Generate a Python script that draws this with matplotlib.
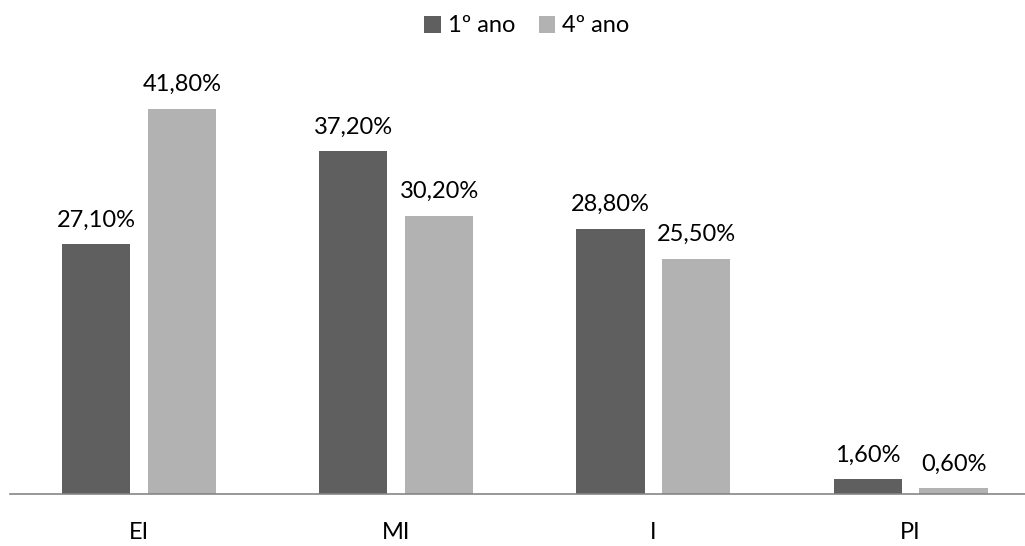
import numpy as np
import matplotlib
matplotlib.use("Agg")
import matplotlib.pyplot as plt

## DATA
categories = ['EI', 'MI', 'I', 'PI']
ano1 = [27.1, 37.2, 28.8, 1.6]
ano4 = [41.8, 30.2, 25.5, 0.6]
series_names = ['1º ano', '4º ano']

plt.rcParams['font.family'] = ['Lato', 'DejaVu Sans']

W, H = 1025, 546
fig = plt.figure(figsize=(W / 100, H / 100), dpi=100)
# axes placed in pixel terms: baseline at y=494, first category centre at x=139
ax = fig.add_axes([10.4 / W, 52 / H, (W - 10.4) / W, 414.5 / H])

x = np.arange(len(categories))
bw = 0.265
off = 0.167
b1 = ax.bar(x - off, ano1, bw, color='#5f5f5f', label=series_names[0])
b2 = ax.bar(x + off, ano4, bw, color='#b2b2b2', label=series_names[1])

for bars, vals in ((b1, ano1), (b2, ano4)):
    for rect, v in zip(bars, vals):
        ax.annotate(('%.2f%%' % v).replace('.', ','),
                    (rect.get_x() + rect.get_width() / 2, rect.get_height()),
                    xytext=(0, 10), textcoords='offset points',
                    ha='center', va='bottom', fontsize=17, color='#000000')

ax.set_xlim(-0.5, (W - 139) / 257.2)
ax.set_ylim(0, 45)
ax.set_xticks(x)
ax.set_xticklabels(categories, fontsize=17)
ax.tick_params(axis='x', length=0, pad=20)
ax.set_yticks([])
for s in ['top', 'right', 'left']:
    ax.spines[s].set_visible(False)
ax.spines['bottom'].set_color('#868686')
ax.spines['bottom'].set_linewidth(1.2)

fig.legend(loc='center', bbox_to_anchor=(527 / W, 1 - 26 / H), ncol=2, frameon=False,
           fontsize=17, handlelength=0.7, handleheight=0.7, handletextpad=0.3,
           columnspacing=1.0)

plt.savefig('out.png', dpi=100)
